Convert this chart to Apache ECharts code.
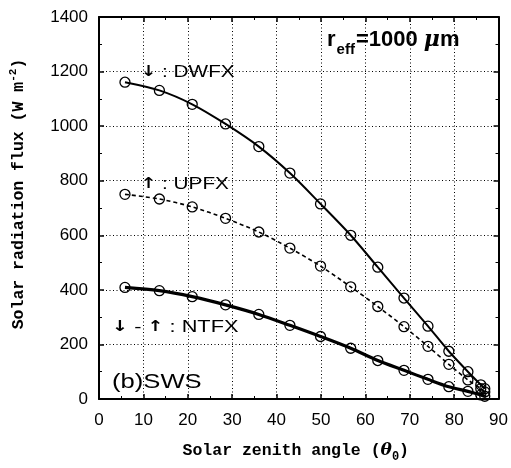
<!DOCTYPE html>
<html><head><meta charset="utf-8">
<script src="https://cdn.jsdelivr.net/npm/echarts@6/dist/echarts.min.js"></script>
<style>html,body{margin:0;padding:0;background:#fff}#c{width:511px;height:468px}</style>
</head><body><div id="c"></div>
<script>
const angles = [5.85, 13.6, 21.0, 28.5, 36.0, 43.0, 49.9, 56.7, 62.8, 68.7, 74.1, 78.8, 83.1, 86.0, 86.9];
const dwfx   = [1161, 1131, 1080, 1008, 925, 828, 715, 600, 483, 370, 267, 175, 100, 52, 38];
const upfx   = [750, 733, 704, 662, 612, 553, 487, 411, 339, 265, 193, 127, 70, 38, 26];
const ntfx   = [409, 397, 375, 345, 310, 270, 229, 186, 141, 105, 72, 45, 28, 15, 10];
const xTicks = [0, 10, 20, 30, 40, 50, 60, 70, 80, 90];
const yTicks = [0, 200, 400, 600, 800, 1000, 1200, 1400];

const pairs = ys => angles.map((a, i) => [a, ys[i]]);
const chart = echarts.init(document.getElementById('c'), null, {renderer: 'canvas'});
const lab = 'Liberation Sans';
const mono = 'Liberation Mono';
const baseX = {
  type: 'value', min: xTicks[0], max: xTicks[xTicks.length - 1], interval: 10,
  axisLine: {show: true, onZero: false, lineStyle: {color: '#000', width: 2}},
  axisTick: {show: true, inside: true, length: 5, lineStyle: {color: '#000', width: 1.5}},
  minorTick: {show: true, splitNumber: 2, length: 3, lineStyle: {color: '#000'}},
  splitLine: {show: false}
};
const baseY = {
  type: 'value', min: yTicks[0], max: yTicks[yTicks.length - 1], interval: 200,
  axisLine: {show: true, onZero: false, lineStyle: {color: '#000', width: 2}},
  axisTick: {show: true, inside: true, length: 5, lineStyle: {color: '#000', width: 1.5}},
  minorTick: {show: true, splitNumber: 2, length: 3, lineStyle: {color: '#000'}},
  splitLine: {show: false}
};
const gridLine = {show: true, lineStyle: {color: '#000', type: [1, 2.5], width: 1}};
const marker = {color: 'rgba(0,0,0,0)', borderColor: '#000', borderWidth: 1.3};
const arrowRich = {a: {fontFamily: 'DejaVu Sans', fontWeight: 'bold', fontSize: 15, fill: '#000'}};
chart.setOption({
  animation: false,
  backgroundColor: '#fff',
  grid: {left: 99, top: 17, width: 400, height: 389, containLabel: false},
  xAxis: [
    Object.assign({}, baseX, {
      position: 'bottom',
      splitLine: gridLine,
      axisLabel: {show: true, color: '#000', fontFamily: lab, fontSize: 17, margin: 13,
        formatter: v => xTicks.includes(v) ? String(v) : ''},
      name: 'Solar zenith angle ({th|θ}{sub|0})', nameLocation: 'middle', nameGap: 39,
      nameTextStyle: {color: '#000', fontFamily: mono, fontWeight: 'bold', fontSize: 16.5, padding: [0, 6, 0, 0],
        rich: {th: {fontFamily: 'DejaVu Serif', fontStyle: 'italic', fontWeight: 'bold', fontSize: 17, color: '#000'},
               sub: {fontFamily: mono, fontWeight: 'bold', fontSize: 12, verticalAlign: 'bottom', padding: [13, 0, 0, 0], color: '#000'}}}
    }),
    Object.assign({}, baseX, {position: 'top', axisLabel: {show: false}})
  ],
  yAxis: [
    Object.assign({}, baseY, {
      position: 'left',
      splitLine: gridLine,
      axisLabel: {show: true, color: '#000', fontFamily: lab, fontSize: 17, margin: 11,
        formatter: v => yTicks.includes(v) ? String(v) : ''},
      name: 'Solar radiation flux (W m{sup|-2})', nameLocation: 'middle', nameRotate: 90, nameGap: 70,
      nameTextStyle: {color: '#000', fontFamily: mono, fontWeight: 'bold', fontSize: 16.5, padding: [0, 0, 0, 28],
        rich: {sup: {fontFamily: mono, fontWeight: 'bold', fontSize: 11, verticalAlign: 'top', padding: [0, 0, 10, 0], color: '#000'}}}
    }),
    Object.assign({}, baseY, {position: 'right', axisLabel: {show: false}})
  ],
  series: [
    {name: 'DWFX', type: 'line', smooth: 0.3, data: pairs(dwfx), symbol: 'circle', symbolSize: 10,
     lineStyle: {color: '#000', width: 2}, itemStyle: marker, z: 3},
    {name: 'UPFX', type: 'line', smooth: 0.3, data: pairs(upfx), symbol: 'circle', symbolSize: 10,
     lineStyle: {color: '#000', width: 1.6, type: [4, 3]}, itemStyle: marker, z: 3},
    {name: 'NTFX', type: 'line', smooth: 0.3, data: pairs(ntfx), symbol: 'circle', symbolSize: 10,
     lineStyle: {color: '#000', width: 3.2}, itemStyle: marker, z: 3}
  ],
  graphic: [
    {type: 'text', left: 327, top: 29, style: {text: 'r{sub|eff}=1000 {mu|μ}m', fill: '#000',
      font: 'bold 22px "Liberation Sans"',
      rich: {sub: {fontFamily: lab, fontWeight: 'bold', fontSize: 15, verticalAlign: 'bottom', padding: [20, 1, 0, 1]},
             mu: {fontFamily: 'DejaVu Serif', fontStyle: 'italic', fontWeight: 'bold', fontSize: 22}}}},
    {type: 'text', left: 141, top: 64, scaleX: 1.22, style: {text: '{a|↓} : DWFX', fill: '#000', font: '17px "Liberation Sans"', rich: arrowRich}},
    {type: 'text', left: 141, top: 176, scaleX: 1.22, style: {text: '{a|↑} : UPFX', fill: '#000', font: '17px "Liberation Sans"', rich: arrowRich}},
    {type: 'text', left: 112, top: 319, scaleX: 1.28, style: {text: '{a|↓} - {a|↑} : NTFX', fill: '#000', font: '17px "Liberation Sans"', rich: arrowRich}},
    {type: 'text', left: 112, top: 372, scaleX: 1.22, style: {text: '(b)SWS', fill: '#000', font: '21px "Liberation Sans"'}}
  ]
});
</script></body></html>
